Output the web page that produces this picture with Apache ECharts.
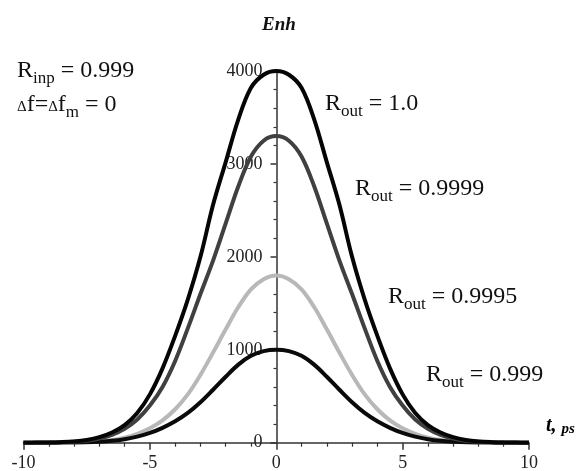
<!DOCTYPE html>
<html>
<head>
<meta charset="utf-8">
<script src="https://cdn.jsdelivr.net/npm/echarts@6/dist/echarts.min.js"></script>
<style>
  html, body { margin: 0; padding: 0; background: #fff; }
  #main { width: 585px; height: 471px; }
</style>
</head>
<body>
<div id="main"></div>
<script>
// time axis, ps
var tValues = [-10,-9.5,-9,-8.5,-8,-7.5,-7,-6.5,-6,-5.5,-5,-4.5,-4,-3.5,-3,-2.5,-2,-1.5,-1,-0.5,0,
               0.5,1,1.5,2,2.5,3,3.5,4,4.5,5,5.5,6,6.5,7,7.5,8,8.5,9,9.5,10];
// Enh
var rOut1 = [0,1,2,6,14,30,60,110,190,320,520,800,1150,1540,2000,2560,3020,3480,3820,3960,4000,
             3960,3820,3480,3020,2560,2000,1540,1150,800,520,320,190,110,60,30,14,6,2,1,0];
var rOut9999 = [0,0,1,4,10,22,45,85,150,250,400,600,880,1230,1600,1960,2360,2760,3080,3250,3300,
                3250,3080,2760,2360,1960,1600,1230,880,600,400,250,150,85,45,22,10,4,1,0,0];
var rOut9995 = [0,0,0,1,3,7,15,30,55,95,155,240,360,520,730,970,1220,1460,1650,1760,1800,
                1760,1650,1460,1220,970,730,520,360,240,155,95,55,30,15,7,3,1,0,0,0];
var rOut999 = [0,0,0,1,2,4,10,20,38,65,105,160,230,320,435,570,710,840,935,985,1000,
               985,935,840,710,570,435,320,230,160,105,65,38,20,10,4,2,1,0,0,0];
var xTicks = [-10, 10, 5];
var yTicks = [0, 4000, 1000];

var serif = '"Liberation Serif", "DejaVu Serif", serif';

function pairs(vals) {
    return tValues.map(function (t, i) { return [t, vals[i]]; });
}

function curve(name, vals, color) {
    return {
        name: name,
        type: 'line',
        data: pairs(vals),
        smooth: 0.35,
        showSymbol: false,
        lineStyle: { color: color, width: 4 },
        z: 3
    };
}

// R with a subscript, label text
var rich = {
    r: { fontFamily: serif, fontSize: 24, color: '#111' },
    s: { fontFamily: serif, fontSize: 17, color: '#111', verticalAlign: 'bottom', padding: [16, 0, 0, 0] },
    d: { fontFamily: serif, fontSize: 15, color: '#111', verticalAlign: 'middle', padding: [6, 0, 0, 0] }
};

function note(x, y, text) {
    return {
        type: 'text',
        left: x,
        top: y,
        z: 10,
        style: { text: text, rich: rich, fill: '#111' }
    };
}

var chart = echarts.init(document.getElementById('main'));
chart.setOption({
    backgroundColor: '#fff',
    animation: false,
    grid: {
        left: 23.5,
        right: 56,
        top: 71,
        bottom: 28.3,
        containLabel: false,
        outerBoundsMode: 'none'
    },
    xAxis: {
        type: 'value',
        min: xTicks[0],
        max: xTicks[1],
        interval: xTicks[2],
        axisLine: { onZero: true, lineStyle: { color: '#333', width: 1.5 } },
        axisTick: { show: true, length: 7, lineStyle: { color: '#333', width: 1.5 } },
        minorTick: { show: true, splitNumber: 5, length: 4, lineStyle: { color: '#333', width: 1.2 } },
        axisLabel: { fontFamily: serif, fontSize: 18, color: '#222', margin: 12 },
        splitLine: { show: false }
    },
    yAxis: {
        type: 'value',
        min: yTicks[0],
        max: yTicks[1],
        interval: yTicks[2],
        // sit the axis on t = 0
        offset: -253,
        axisLine: { onZero: false, lineStyle: { color: '#333', width: 1.5 } },
        axisTick: { show: true, length: 6, lineStyle: { color: '#333', width: 1.5 } },
        minorTick: { show: true, splitNumber: 5, length: 3, lineStyle: { color: '#333', width: 1.2 } },
        axisLabel: {
            fontFamily: serif, fontSize: 18, color: '#222', margin: 14,
            formatter: function (v) { return String(v); }
        },
        splitLine: { show: false }
    },
    series: [
        curve('R_out = 0.9995', rOut9995, '#b8b8b8'),
        curve('R_out = 0.999', rOut999, '#0a0a0a'),
        curve('R_out = 0.9999', rOut9999, '#404040'),
        curve('R_out = 1.0', rOut1, '#050505')
    ],
    graphic: [
        {
            type: 'text',
            left: 262,
            top: 16,
            style: { text: 'Enh', font: 'italic bold 19px ' + serif, fill: '#111' }
        },
        {
            type: 'text',
            left: 546,
            top: 416,
            style: {
                text: '{a|t, }{b|ps}',
                rich: {
                    a: { font: 'italic bold 20px ' + serif, color: '#111' },
                    b: { font: 'italic bold 15px ' + serif, color: '#111', verticalAlign: 'bottom', padding: [6, 0, 0, 0] }
                }
            }
        },
        note(17, 58.5, '{r|R}{s|inp}{r| = 0.999}'),
        note(17, 92.5, '{d|\u0394}{r|f=}{d|\u0394}{r|f}{s|m}{r| = 0}'),
        note(325, 91.5, '{r|R}{s|out}{r| = 1.0}'),
        note(355, 176.5, '{r|R}{s|out}{r| = 0.9999}'),
        note(388, 284.5, '{r|R}{s|out}{r| = 0.9995}'),
        note(426, 362.5, '{r|R}{s|out}{r| = 0.999}')
    ]
});
</script>
</body>
</html>
